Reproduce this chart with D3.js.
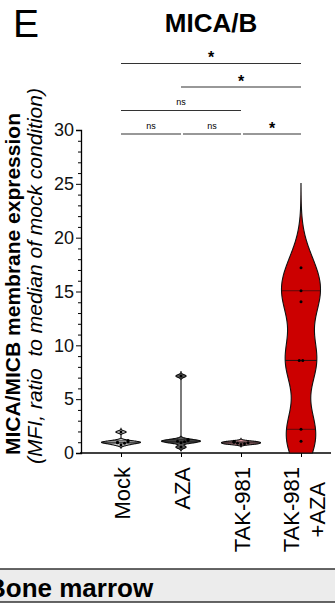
<!DOCTYPE html>
<html>
<head>
<meta charset="utf-8">
<script src="https://cdn.jsdelivr.net/npm/d3@7/dist/d3.min.js"></script>
<style>
  html, body { margin: 0; padding: 0; background: #fff; overflow: hidden; }
  svg { display: block; }
  text { font-family: "Liberation Sans", Arial, sans-serif; }
</style>
</head>
<body>
<div id="chart"></div>
<script>
// categories + values
const categories = ["Mock", "AZA", "TAK-981", "TAK-981\n+AZA"];
const colors = ["#d2d2d2", "#5a5a5a", "#e39aa0", "#cc0000"];
const mockVals = [0.75, 0.9, 0.95, 1.0, 1.05, 1.15, 1.95];
const azaVals = [0.55, 0.95, 1.05, 1.1, 1.15, 1.25, 7.15];
const takVals = [0.8, 0.85, 0.9, 0.95, 1.0, 1.05, 1.1];
const comboVals = [1.1, 2.2, 8.6, 8.6, 14.05, 15.07, 17.2];
const bandwidths = [0.1, 0.12, 0.08, 2.3];
const yTicks = [0, 5, 10, 15, 20, 25, 30];
// pairwise comparisons: [from, to, label]
const comparisons = [
    [0, 1, "ns"], [1, 2, "ns"], [2, 3, "*"],
    [0, 2, "ns"], [1, 3, "*"], [0, 3, "*"]
];

const W = 335, H = 604;
const groups = [mockVals, azaVals, takVals, comboVals];

const svg = d3.select("#chart").append("svg")
    .attr("width", W).attr("height", H);

// panel letter + title
svg.append("text").attr("x", 13).attr("y", 37)
    .style("font-size", "39px").text("E");
svg.append("text").attr("x", 211).attr("y", 32)
    .attr("text-anchor", "middle")
    .style("font-size", "26px").style("font-weight", "bold")
    .text("MICA/B");

const x = d3.scalePoint().domain(d3.range(categories.length)).range([121, 301]);
const y = d3.scaleLinear().domain([0, 30]).range([453, 130]);
const halfW = 19.5;

// y axis
const yAxis = svg.append("g").attr("transform", "translate(81,0)")
    .call(d3.axisLeft(y).tickValues(yTicks).tickSize(5).tickPadding(2));
yAxis.selectAll("text").style("font-size", "18px")
    .style("font-family", "'Liberation Sans', Arial, sans-serif").attr("fill", "#111");
yAxis.select(".domain").attr("stroke-width", 1.3);
svg.append("g").attr("transform", "translate(81,0)")
    .call(d3.axisLeft(y).tickValues(d3.range(0, 31).filter(v => v % 5)).tickSize(3).tickFormat(""))
    .select(".domain").remove();

// x axis
const xAxis = svg.append("g").attr("transform", "translate(0,453)")
    .call(d3.axisBottom(x).tickSize(4).tickFormat(""));
xAxis.select(".domain").remove();
svg.append("line").attr("x1", 80).attr("x2", 331).attr("y1", 453).attr("y2", 453)
    .attr("stroke", "#000").attr("stroke-width", 1.3);

// x labels (rotated, lines centred on the longest one)
categories.forEach((c, i) => {
    const lines = c.split("\n");
    const g = svg.append("g").attr("transform", `translate(${x(i)},467) rotate(-90)`);
    const t = g.append("text").attr("text-anchor", "middle").style("font-size", "22px");
    lines.forEach((ln, j) => {
        t.append("tspan").attr("x", 0)
            .attr("dy", j === 0 ? (0.34 + 0.5 - lines.length * 0.5) * 1.2 + 0.1 * (lines.length - 1) + "em" : "1.2em")
            .text(ln);
    });
    let maxW = 0;
    t.selectAll("tspan").each(function () { maxW = Math.max(maxW, this.getComputedTextLength()); });
    t.selectAll("tspan").attr("x", -maxW / 2);
});

// y axis title
svg.append("text")
    .attr("transform", "translate(20,284) rotate(-90)")
    .attr("text-anchor", "middle")
    .style("font-size", "21px").style("font-weight", "bold")
    .text("MICA/MICB membrane expression");
svg.append("text")
    .attr("transform", "translate(42,276) rotate(-90)")
    .attr("text-anchor", "middle")
    .style("font-size", "21px").style("font-style", "italic")
    .style("white-space", "pre")
    .text("(MFI, ratio  to median of mock condition)");

// kde helpers
function kde(vals, bw, lo, hi, n) {
    const pts = d3.range(n + 1).map(k => lo + (hi - lo) * k / n);
    return pts.map(v => [v, d3.sum(vals, d => Math.exp(-0.5 * ((v - d) / bw) ** 2))]);
}
// quantile with (n+1)p positioning (Prism-style)
function q(vals, p) {
    const s = vals.slice().sort(d3.ascending);
    const pos = (s.length + 1) * p - 1;
    const lo = Math.max(0, Math.floor(pos)), hi = Math.min(s.length - 1, Math.ceil(pos));
    return s[lo] + (s[hi] - s[lo]) * (pos - lo);
}

groups.forEach((vals, i) => {
    const bw = bandwidths[i];
    const lo = Math.max(0, d3.min(vals) - 3 * bw);
    const hi = Math.min(30, d3.max(vals) + 3.4 * bw);
    const dens = kde(vals, bw, lo, hi, 200);
    const maxD = d3.max(dens, d => d[1]);
    const w = d3.scaleLinear().domain([0, maxD]).range([0, halfW]);
    const cx = x(i);
    const area = d3.area()
        .y(d => y(d[0]))
        .x0(d => cx - w(d[1]))
        .x1(d => cx + w(d[1]))
        .curve(d3.curveBasis);
    svg.append("path").datum(dens)
        .attr("d", area)
        .attr("fill", colors[i])
        .attr("stroke", "#111")
        .attr("stroke-width", 1.1);

    const wAt = v => w(d3.sum(vals, d => Math.exp(-0.5 * ((v - d) / bw) ** 2)));
    [[0.25, 0.6], [0.5, 0.9], [0.75, 0.6]].forEach(([p, sw]) => {
        const v = q(vals, p);
        svg.append("line")
            .attr("x1", cx - wAt(v)).attr("x2", cx + wAt(v))
            .attr("y1", y(v)).attr("y2", y(v))
            .attr("stroke", "#111").attr("stroke-width", sw);
    });

    // dots, dodged when they overlap
    const placed = [];
    vals.slice().sort(d3.ascending).forEach(v => {
        const near = placed.filter(p => Math.abs(y(p.v) - y(v)) < 2.5).length;
        const off = near === 0 ? 0 : (near % 2 ? 1 : -1) * Math.ceil(near / 2) * 3.5;
        placed.push({ v, off });
    });
    const dupCount = v => placed.filter(p => Math.abs(y(p.v) - y(v)) < 2.5).length;
    svg.append("g").selectAll("circle").data(placed).join("circle")
        .attr("cx", d => cx + d.off - (dupCount(d.v) === 2 ? 1.75 : 0))
        .attr("cy", d => y(d.v))
        .attr("r", 1.5)
        .attr("fill", "#000");
});

// significance brackets: lowest free level per comparison
const levels = [];
const bracketStep = 23.5, bracketBase = 134;
comparisons.slice()
    .sort((a, b) => (a[1] - a[0]) - (b[1] - b[0]) || a[0] - b[0])
    .forEach(c => {
        let lv = 0;
        while ((levels[lv] || []).some(o => !(c[1] <= o[0] || c[0] >= o[1]))) lv++;
        (levels[lv] = levels[lv] || []).push(c);
        const row = levels[lv];
        const touchL = row.some(o => o !== c && o[1] === c[0]);
        const touchR = row.some(o => o !== c && o[0] === c[1]);
        const yy = bracketBase - lv * bracketStep;
        const x1 = x(c[0]) + (touchL ? 2 : 0), x2 = x(c[1]) - (touchR ? 2 : 0);
        svg.append("line").attr("x1", x1).attr("x2", x2)
            .attr("y1", yy).attr("y2", yy)
            .attr("stroke", "#333").attr("stroke-width", 1.1);
        const star = c[2] === "*";
        svg.append("text")
            .attr("x", (x1 + x2) / 2)
            .attr("y", yy - (star ? 0.5 : 5.5))
            .attr("text-anchor", "middle")
            .style("font-size", star ? "16px" : "9px")
            .style("font-weight", star ? "bold" : "normal")
            .text(c[2]);
    });

// bottom banner (title runs off the left edge, as in the source figure)
svg.append("rect").attr("x", -2).attr("y", 569).attr("width", W + 4).attr("height", 33)
    .attr("fill", "#ececec");
[569, 602].forEach(yy => svg.append("line")
    .attr("x1", -2).attr("x2", W + 2).attr("y1", yy).attr("y2", yy)
    .attr("stroke", "#333").attr("stroke-width", 1.5));
svg.append("text").attr("x", -13).attr("y", 597)
    .style("font-size", "26px").style("font-weight", "bold")
    .text("Bone marrow");
</script>
</body>
</html>
